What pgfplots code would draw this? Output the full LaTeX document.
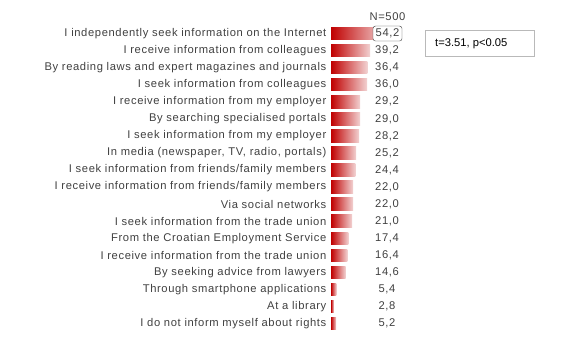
\documentclass[border=0pt]{standalone}
\usepackage{pgfplots}
\pgfplotsset{compat=1.18}
\usepackage{fontspec}
\setmainfont[LetterSpace=5.5]{Liberation Sans}
\newfontfamily\plainf{Liberation Sans}
\definecolor{txt}{HTML}{404040}
\definecolor{barA}{HTML}{C00000}
\definecolor{barB}{HTML}{F2D2D2}
\newcommand{\hbarr}[2]{\addplot[xbar, bar width=12.5bp, bar shift=0pt, draw=none, left color=barA, right color=barB] coordinates {(#1,#2)};}
\begin{document}
\begin{tikzpicture}[font=\fontsize{11.2bp}{13bp}\selectfont, x=1bp, y=1bp]
\path[use as bounding box] (0,0) rectangle (568,-360);
\begin{axis}[
  at={(331bp,-25bp)}, anchor=north west,
  scale only axis, width=100bp, height=307.1bp,
  xmin=0, xmax=100, ymin=-0.5, ymax=17.5, y dir=reverse,
  axis line style={draw=none}, tick style={draw=none},
  xtick=\empty, ytick={0,...,17},
  yticklabels={I independently seek information on the Internet,
    I receive information from colleagues,
    By reading laws and expert magazines and journals,
    I seek information from colleagues,
    I receive information from my employer,
    By searching specialised portals,
    I seek information from my employer,
    {In media (newspaper, TV, radio, portals)},
    I seek information from friends/family members,
    I receive information from friends/family members,
    Via social networks,
    I seek information from the trade union,
    From the Croatian Employment Service,
    I receive information from the trade union,
    By seeking advice from lawyers,
    Through smartphone applications,
    At a library,
    I do not inform myself about rights},
  yticklabel style={text=txt, anchor=east, inner sep=0pt, xshift=-4.5bp},
  clip=false,
]
\hbarr{54.2}{0}
\hbarr{39.2}{1}
\hbarr{36.4}{2}
\hbarr{36.0}{3}
\hbarr{29.2}{4}
\hbarr{29.0}{5}
\hbarr{28.2}{6}
\hbarr{25.2}{7}
\hbarr{24.4}{8}
\hbarr{22.0}{9}
\hbarr{22.0}{10}
\hbarr{21.0}{11}
\hbarr{17.4}{12}
\hbarr{16.4}{13}
\hbarr{14.6}{14}
\hbarr{5.4}{15}
\hbarr{2.8}{16}
\hbarr{5.2}{17}
\addplot[draw=none, mark=none, nodes near coords, point meta=explicit symbolic,
  nodes near coords style={anchor=center, text=txt}]
  table[meta=lab] {
x y lab
56 1 39,2
56 2 36,4
56 3 36,0
56 4 29,2
56 5 29,0
56 6 28,2
56 7 25,2
56 8 24,4
56 9 22,0
56 10 22,0
56 11 21,0
56 12 17,4
56 13 16,4
56 14 14,6
56 15 5,4
56 16 2,8
56 17 5,2
};
\addplot[draw=none, mark=none, nodes near coords, point meta=explicit symbolic,
  nodes near coords style={anchor=center, text=txt, draw=txt, fill=white, rounded corners=2.5bp,
    minimum width=29bp, minimum height=15bp, inner sep=0pt}]
  table[meta=lab] {
x y lab
56.5 0 54,2
};
\node[text=txt] at (axis cs:56.5,-1) {N=500};
\end{axis}
\draw[color=gray!55] (425,-30.5) rectangle (534.5,-56.5);
\node[anchor=west, inner sep=0pt, text=black] at (435,-43.5) {\plainf t=3.51, p<0.05};
\end{tikzpicture}
\end{document}
